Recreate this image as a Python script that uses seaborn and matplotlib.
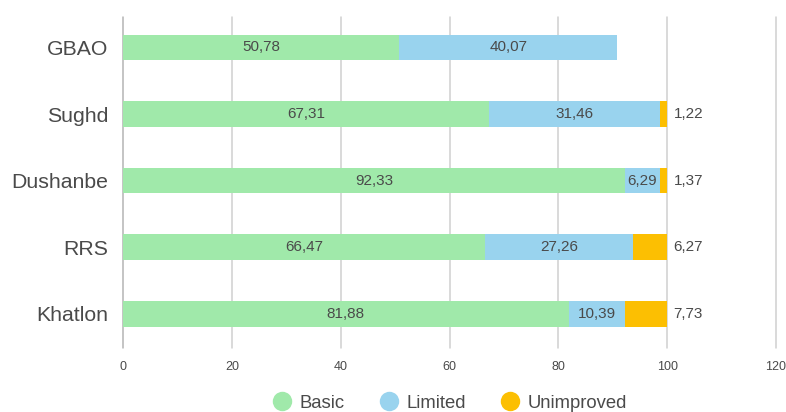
import numpy as np
import pandas as pd
import matplotlib
matplotlib.use("Agg")
import matplotlib.pyplot as plt
from matplotlib.lines import Line2D
import seaborn as sns

regions = ["GBAO", "Sughd", "Dushanbe", "RRS", "Khatlon"]
basic = [50.78, 67.31, 92.33, 66.47, 81.88]
limited = [40.07, 31.46, 6.29, 27.26, 10.39]
unimproved = [0.0, 1.22, 1.37, 6.27, 7.73]

series_names = ["Basic", "Limited", "Unimproved"]
colors = {"Basic": "#a0e9aa", "Limited": "#99d3ee", "Unimproved": "#fcbf02"}
text_color = "#4a4a4a"

sns.set_theme(style="white")
plt.rcParams["font.family"] = ["Liberation Sans", "DejaVu Sans"]

df = pd.DataFrame({"region": regions, "Basic": basic,
                   "Limited": limited, "Unimproved": unimproved})
df["cum_basic"] = df["Basic"]
df["cum_limited"] = df["Basic"] + df["Limited"]
df["cum_total"] = df["cum_limited"] + df["Unimproved"]

fig, ax = plt.subplots(figsize=(7.86, 4.12), dpi=100)
fig.subplots_adjust(left=0.1565, right=0.9873, top=0.959, bottom=0.155)

# stacked bars: draw cumulative totals back-to-front
for col, name in [("cum_total", "Unimproved"), ("cum_limited", "Limited"),
                  ("cum_basic", "Basic")]:
    sns.barplot(data=df, x=col, y="region", order=regions, orient="h",
                color=colors[name], saturation=1, width=0.39,
                linewidth=0, ax=ax, zorder=3)

def fmt(v):
    return f"{v:.2f}".replace(".", ",")

for i in range(len(regions)):
    b, l, u = basic[i], limited[i], unimproved[i]
    ax.text(b / 2, i, fmt(b), ha="center", va="center",
            fontsize=11, color=text_color, zorder=5)
    ax.text(b + l / 2, i, fmt(l), ha="center", va="center",
            fontsize=11, color=text_color, zorder=5)
    if u > 0:
        ax.text(b + l + u + 1.2, i, fmt(u), ha="left", va="center",
                fontsize=11, color=text_color, zorder=5)

ax.set_xlim(0, 120)
ax.set_ylim(4.52, -0.46)
ax.set_xticks(np.arange(0, 121, 20))
ax.set_xticklabels([str(t) for t in range(0, 121, 20)])
ax.tick_params(axis="x", labelsize=9, colors=text_color, length=0, pad=9)
ax.tick_params(axis="y", labelsize=15.3, colors=text_color, length=0, pad=10.5)
ax.set_xlabel("")
ax.set_ylabel("")

for t in np.arange(0, 121, 20):
    ax.axvline(t, color="#b4b4b4" if t == 0 else "#cfcfcf",
               linewidth=1.1, zorder=1, clip_on=False)

for s in ax.spines.values():
    s.set_visible(False)

handles = [Line2D([0], [0], marker="o", linestyle="", markersize=14,
                  markerfacecolor=colors[n], markeredgewidth=0, label=n)
           for n in series_names]
leg = fig.legend(handles=handles, loc="lower center", ncol=3, frameon=False,
                 bbox_to_anchor=(0.5725, -0.04), fontsize=13.3,
                 handletextpad=0.45, columnspacing=1.9, handlelength=1.0)
for t in leg.get_texts():
    t.set_color(text_color)

fig.savefig("out.png", dpi=100)
